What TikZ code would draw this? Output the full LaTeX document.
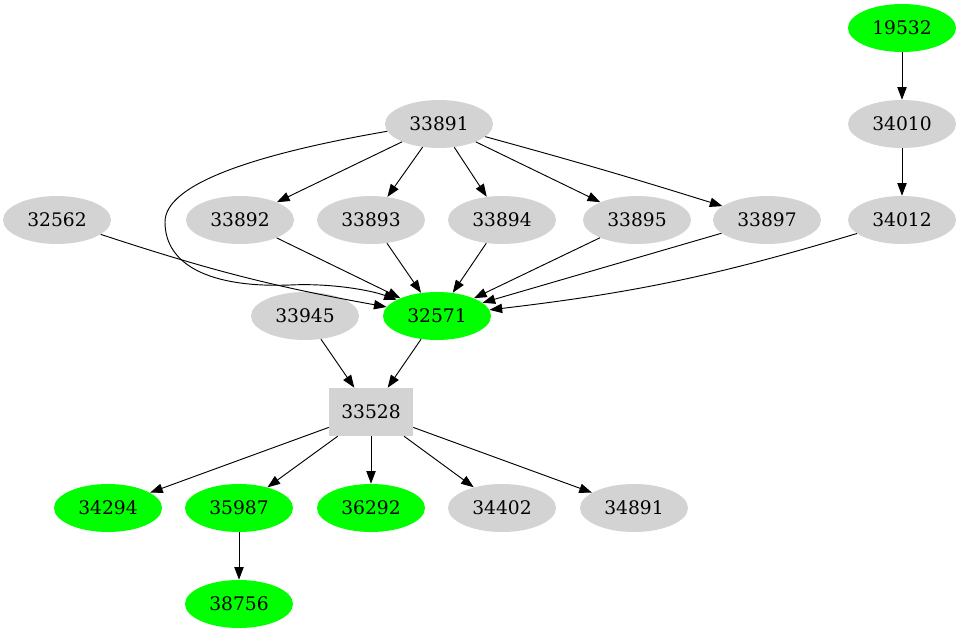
\documentclass[tikz,border=0pt]{standalone}
\usepackage{fontspec}
\setmainfont{DejaVu Serif}
\usetikzlibrary{arrows.meta,shapes.geometric}
\definecolor{hitgreen}{HTML}{00FF00}
\definecolor{misgray}{HTML}{D3D3D3}

\begin{document}
\begin{tikzpicture}[x=0.75pt,y=-0.75pt,
 oval/.style={ellipse,fill=misgray,minimum width=81pt,minimum height=36pt,inner sep=0pt,font=\fontsize{14}{16}\selectfont},
 hit/.style={oval,fill=hitgreen},
 boxnode/.style={rectangle,fill=misgray,minimum width=63pt,minimum height=36pt,inner sep=0pt,font=\fontsize{14}{16}\selectfont},
 link/.style={-{Triangle[length=9.5pt,width=7pt]},line width=0.7pt}]
\useasboundingbox (0,0) rectangle (959,635);
% top rows
\node[hit] (n19532) at (902,28) {19532};
\node[oval] (n34010) at (902,124) {34010};
\node[oval] (n34012) at (902,220) {34012};
\node[oval] (n33891) at (439,124) {33891};
\node[oval] (n32562) at (57,220) {32562};
\node[oval] (n33892) at (240,220) {33892};
\node[oval] (n33893) at (371,220) {33893};
\node[oval] (n33894) at (502,220) {33894};
\node[oval] (n33895) at (637,220) {33895};
\node[oval] (n33897) at (767,220) {33897};
\node[oval] (n33945) at (305,316) {33945};
\node[hit] (n32571) at (437,316) {32571};
\node[boxnode] (n33528) at (371,412) {33528};
% bottom rows
\node[hit] (n34294) at (108,508) {34294};
\node[hit] (n35987) at (239,508) {35987};
\node[hit] (n36292) at (371,508) {36292};
\node[oval] (n34402) at (502,508) {34402};
\node[oval] (n34891) at (634,508) {34891};
\node[hit] (n38756) at (239,604) {38756};

\draw[link] (n19532) -- (n34010);
\draw[link] (n34010) -- (n34012);
\foreach \t in {33892,33893,33894,33895}
  \draw[link] (n33891) -- (n\t);
\draw[link] (n33891) to[bend left=1] (n33897);
\draw[link] (n33891.188) .. controls (250,155) and (165,185) .. (165,222)
  .. controls (165,265) and (210,288) .. (290,285)
  .. controls (330,283) and (370,290) .. (n32571.158);
\draw[link] (n32562) to[bend right=4] (n32571);
\foreach \s in {33892,33893,33894,33895,33897}
  \draw[link] (n\s) -- (n32571);
\draw[link] (n34012) to[bend left=5] (n32571);
\draw[link] (n33945) -- (n33528);
\draw[link] (n32571) -- (n33528);
\foreach \t in {34294,35987,36292,34402,34891}
  \draw[link] (n33528) -- (n\t);
\draw[link] (n35987) -- (n38756);
\end{tikzpicture}
\end{document}
